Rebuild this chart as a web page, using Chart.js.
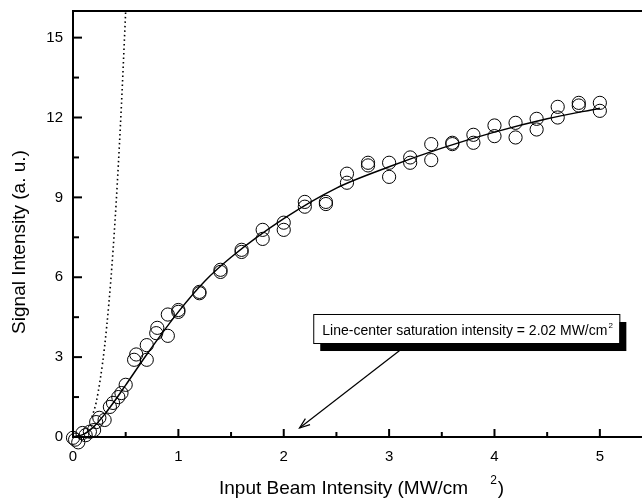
<!DOCTYPE html>
<html lang="en">
<head>
    <meta charset="UTF-8">
    <title>Signal Intensity vs Input Beam Intensity</title>
    <script src="https://cdn.jsdelivr.net/npm/chart.js"></script>
    <style>
        html, body { margin: 0; padding: 0; background: #fff; }
        canvas { display: block; }
    </style>
</head>
<body>
    <canvas id="satChart" width="642" height="499"></canvas>

    <script>
        // measured points (two runs per intensity)
        const pointX = [0.0, 0.02, 0.05, 0.09, 0.12, 0.16, 0.2, 0.22, 0.25, 0.3,
                        0.35, 0.38, 0.43, 0.46, 0.5, 0.58, 0.6, 0.7, 0.7, 0.79,
                        0.8, 0.9, 0.9, 1.0, 1.0, 1.2, 1.2, 1.4, 1.4, 1.6,
                        1.6, 1.8, 1.8, 2.0, 2.0, 2.2, 2.2, 2.4, 2.4, 2.6,
                        2.6, 2.8, 2.8, 3.0, 3.0, 3.2, 3.2, 3.4, 3.4, 3.6,
                        3.6, 3.8, 3.8, 4.0, 4.0, 4.2, 4.2, 4.4, 4.4, 4.6,
                        4.6, 4.8, 4.8, 5.0, 5.0];
        const pointY = [-0.03, -0.1, -0.2, 0.15, 0.07, 0.2, 0.26, 0.56, 0.72, 0.64,
                        1.13, 1.28, 1.5, 1.65, 1.96, 2.9, 3.1, 2.9, 3.45, 3.9,
                        4.1, 4.6, 3.8, 4.7, 4.77, 5.45, 5.4, 6.28, 6.2, 7.03,
                        6.95, 7.78, 7.44, 8.05, 7.78, 8.83, 8.65, 8.83, 8.75, 9.89,
                        9.55, 10.3, 10.2, 10.3, 9.77, 10.5, 10.3, 11.0, 10.4, 11.05,
                        11.0, 11.35, 11.05, 11.7, 11.3, 11.8, 11.25, 11.95, 11.55, 12.4,
                        12.0, 12.55, 12.45, 12.55, 12.25];

        // saturation fit (solid)
        const fitX = [0, 0.1, 0.2, 0.3, 0.4, 0.5, 0.7, 1.0, 1.25, 1.5, 2.0, 2.5, 3.0, 3.5, 4.0, 4.5, 5.0];
        const fitY = [0, 0.1, 0.4, 0.85, 1.38, 1.95, 3.1, 4.7, 5.85, 6.75, 8.2, 9.35, 10.15, 10.85, 11.45, 11.95, 12.35];

        // unsaturated curve (dotted)
        const dotX = [0.18, 0.22, 0.26, 0.3, 0.34, 0.38, 0.42, 0.46, 0.5];
        const dotY = [0.75, 1.3, 2.2, 3.4, 5.0, 7.0, 9.5, 12.5, 16.0];

        const xTitle = 'Input Beam Intensity (MW/cm';
        const yTitle = 'Signal Intensity (a. u.)';
        const noteText = 'Line-center saturation intensity = 2.02 MW/cm';

        // annotation placement in data units
        const noteBox = { x1: 2.28, x2: 5.185, yTop: 4.62, yBottom: 3.53 };
        const noteArrow = { fromX: 3.1, fromY: 3.25, toX: 2.15, toY: 0.34 };

        const FONT = "'Liberation Sans', Arial, sans-serif";

        function toPoints(xs, ys) {
            return xs.map((v, i) => ({ x: v, y: ys[i] }));
        }

        function strokeLine(ctx, x1, y1, x2, y2) {
            ctx.beginPath();
            ctx.moveTo(x1, y1);
            ctx.lineTo(x2, y2);
            ctx.stroke();
        }

        const decorPlugin = {
            id: 'decor',
            afterDraw(chart) {
                const ctx = chart.ctx;
                const a = chart.chartArea;
                const xs = chart.scales.x;
                const ys = chart.scales.y;
                ctx.save();
                ctx.strokeStyle = '#000';
                ctx.fillStyle = '#000';
                ctx.lineWidth = 2;

                // top frame line
                strokeLine(ctx, a.left - 1, a.top, a.right, a.top);

                // inward ticks, major + minor
                xs.ticks.forEach(t => {
                    const px = xs.getPixelForValue(t.value);
                    strokeLine(ctx, px, a.bottom, px, a.bottom - 8);
                    const mid = t.value + 0.5;
                    if (mid < xs.max) {
                        const mx = xs.getPixelForValue(mid);
                        strokeLine(ctx, mx, a.bottom, mx, a.bottom - 5);
                    }
                });
                ys.ticks.forEach(t => {
                    const py = ys.getPixelForValue(t.value);
                    strokeLine(ctx, a.left, py, a.left + 9, py);
                    const mid = t.value + 1.5;
                    if (mid < ys.max) {
                        const my = ys.getPixelForValue(mid);
                        strokeLine(ctx, a.left, my, a.left + 6, my);
                    }
                });

                // axis titles
                ctx.font = '19px ' + FONT;
                ctx.textBaseline = 'middle';
                ctx.textAlign = 'left';
                const w = ctx.measureText(xTitle).width;
                let tx = 219;
                ctx.fillText(xTitle, tx, 489);
                tx += w + 22;
                ctx.font = '12px ' + FONT;
                ctx.fillText('2', tx, 481);
                tx += ctx.measureText('2').width + 1;
                ctx.font = '19px ' + FONT;
                ctx.fillText(')', tx, 489);

                ctx.save();
                ctx.translate(20, 242);
                ctx.rotate(-Math.PI / 2);
                ctx.textAlign = 'center';
                ctx.fillText(yTitle, 0, 0);
                ctx.restore();

                // annotation box with shadow
                const bx1 = xs.getPixelForValue(noteBox.x1);
                const bx2 = xs.getPixelForValue(noteBox.x2);
                const by1 = ys.getPixelForValue(noteBox.yTop);
                const by2 = ys.getPixelForValue(noteBox.yBottom);
                ctx.fillStyle = '#000';
                ctx.fillRect(bx1 + 7, by1 + 8, bx2 - bx1, by2 - by1);
                ctx.fillStyle = '#fff';
                ctx.fillRect(bx1, by1, bx2 - bx1, by2 - by1);
                ctx.lineWidth = 1;
                ctx.strokeRect(bx1 + 0.5, by1 + 0.5, bx2 - bx1, by2 - by1);

                ctx.fillStyle = '#000';
                ctx.font = '14px ' + FONT;
                ctx.textAlign = 'left';
                ctx.textBaseline = 'alphabetic';
                const ty = by1 + 21;
                ctx.fillText(noteText, bx1 + 9, ty);
                const nw = ctx.measureText(noteText).width;
                ctx.font = '8px ' + FONT;
                ctx.fillText('2', bx1 + 9 + nw + 1, ty - 7);

                // arrow
                const ax1 = xs.getPixelForValue(noteArrow.fromX);
                const ay1 = ys.getPixelForValue(noteArrow.fromY);
                const ax2 = xs.getPixelForValue(noteArrow.toX);
                const ay2 = ys.getPixelForValue(noteArrow.toY);
                ctx.lineWidth = 1.2;
                strokeLine(ctx, ax1, ay1, ax2, ay2);
                const ang = Math.atan2(ay2 - ay1, ax2 - ax1);
                const hl = 11, hw = 0.35;
                ctx.beginPath();
                ctx.moveTo(ax2 - hl * Math.cos(ang - hw), ay2 - hl * Math.sin(ang - hw));
                ctx.lineTo(ax2, ay2);
                ctx.lineTo(ax2 - hl * Math.cos(ang + hw), ay2 - hl * Math.sin(ang + hw));
                ctx.stroke();

                ctx.restore();
            }
        };

        const ctx = document.getElementById('satChart').getContext('2d');
        const satChart = new Chart(ctx, {
            type: 'scatter',
            data: {
                datasets: [{
                    label: 'fit',
                    data: toPoints(fitX, fitY),
                    showLine: true,
                    borderColor: '#000',
                    borderWidth: 1.5,
                    pointRadius: 0,
                    cubicInterpolationMode: 'monotone'
                },
                {
                    label: 'unsaturated',
                    data: toPoints(dotX, dotY),
                    showLine: true,
                    borderColor: '#000',
                    borderWidth: 1.6,
                    borderDash: [1.5, 3],
                    pointRadius: 0,
                    cubicInterpolationMode: 'monotone'
                },
                {
                    label: 'data',
                    data: toPoints(pointX, pointY),
                    showLine: false,
                    pointStyle: 'circle',
                    pointRadius: 6.6,
                    borderColor: '#000',
                    borderWidth: 1,
                    backgroundColor: 'rgba(0,0,0,0)',
                    clip: false
                }]
            },
            options: {
                responsive: false,
                animation: false,
                layout: { autoPadding: false, padding: { top: 11, right: 0, left: 0, bottom: 0 } },
                plugins: {
                    legend: { display: false },
                    tooltip: { enabled: false }
                },
                scales: {
                    x: {
                        type: 'linear',
                        min: 0,
                        max: 5.4,
                        grid: { display: false, drawTicks: false },
                        border: { display: true, color: '#000', width: 2 },
                        ticks: {
                            stepSize: 1,
                            includeBounds: false,
                            color: '#000',
                            padding: 11,
                            maxRotation: 0,
                            font: { family: FONT, size: 15 }
                        },
                        afterFit: s => {
                            s.height = 62;
                            s.paddingLeft = 0;
                            s.paddingRight = 0;
                        }
                    },
                    y: {
                        type: 'linear',
                        min: 0,
                        max: 16,
                        grid: { display: false, drawTicks: false },
                        border: { display: true, color: '#000', width: 2 },
                        ticks: {
                            stepSize: 3,
                            includeBounds: false,
                            color: '#000',
                            padding: 10,
                            font: { family: FONT, size: 15 }
                        },
                        afterFit: s => {
                            s.width = 73;
                            s.paddingTop = 0;
                            s.paddingBottom = 0;
                        }
                    }
                }
            },
            plugins: [decorPlugin]
        });
    </script>
</body>
</html>
